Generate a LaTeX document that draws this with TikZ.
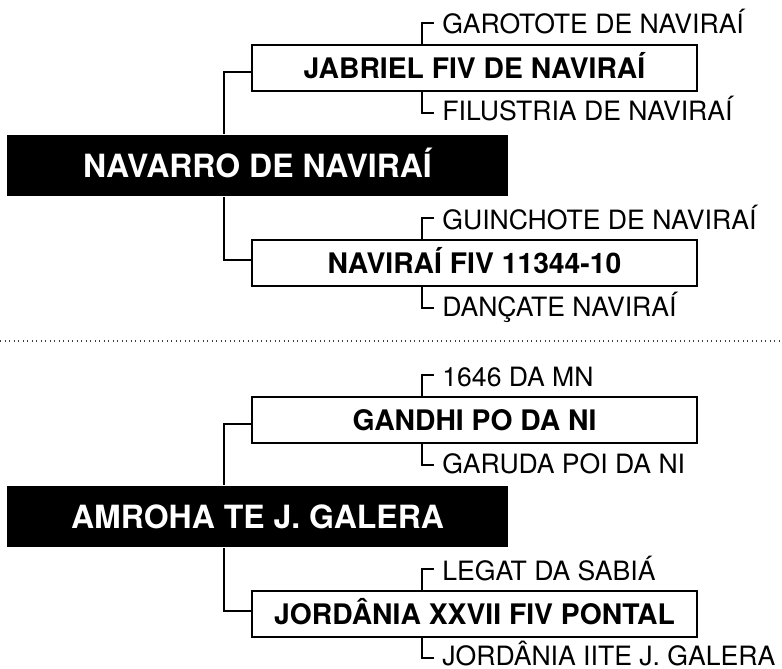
\documentclass[tikz,border=0pt]{standalone}
\usepackage{fontspec}
\setmainfont{TeX Gyre Heros}

\tikzset{every picture/.style={line width=1.8pt}}
\tikzset{
  rootbox/.style={fill=black, draw=none, text=white, inner sep=0pt,
    minimum width=501pt, minimum height=61pt, text height=23pt, text depth=0pt,
    font=\fontsize{32}{38}\selectfont\bfseries},
  kidbox/.style={fill=white, draw=black, line width=2pt, inner sep=0pt,
    minimum width=445pt, minimum height=46pt, text height=20pt, text depth=0pt,
    font=\fontsize{28.3}{34}\selectfont\bfseries},
  leaf/.style={anchor=west, inner sep=0pt,
    text height=19pt, text depth=0pt, font=\fontsize{26.6}{32}\selectfont},
  trunk/.style={line width=2pt},
  bracket/.style={line width=1.6pt},
  splitline/.style={line width=1.3pt, dash pattern=on 1.3pt off 3.2pt, black!75}
}

\begin{document}
\begin{tikzpicture}[x=1pt,y=1pt,yscale=-1,xscale=1]
	\useasboundingbox (0,0) rectangle (782,669);

	%Upper tree
	\node [rootbox] (navarro) at (257.5,165.5) {NAVARRO DE NAVIRAÍ};
	\node [kidbox] (jabriel) at (474.5,68) {JABRIEL FIV DE NAVIRAÍ};
	\node [kidbox] (navfiv) at (474.5,263) {NAVIRAÍ FIV 11344-10};
	\node [leaf] (garotote) at (441.5,24.5) {GAROTOTE DE NAVIRAÍ};
	\node [leaf] (filustria) at (441.5,111.5) {FILUSTRIA DE NAVIRAÍ};
	\node [leaf] (guinchote) at (441.5,219.5) {GUINCHOTE DE NAVIRAÍ};
	\node [leaf] (dancate) at (441.5,306.5) {DANÇATE NAVIRAÍ};

	\draw [trunk] ([xshift=-33.5pt]navarro.north) |- ([yshift=4pt]jabriel.west);
	\draw [trunk] ([xshift=-33.5pt]navarro.south) |- ([yshift=-3pt]navfiv.west);
	\draw [bracket] ([xshift=-52.5pt]jabriel.north) |- ([xshift=-7.5pt,yshift=-1.5pt]garotote.west);
	\draw [bracket] ([xshift=-52.5pt]jabriel.south) |- ([xshift=-7.5pt,yshift=1.5pt]filustria.west);
	\draw [bracket] ([xshift=-52.5pt]navfiv.north) |- ([xshift=-7.5pt,yshift=-1.5pt]guinchote.west);
	\draw [bracket] ([xshift=-52.5pt]navfiv.south) |- ([xshift=-7.5pt,yshift=1.5pt]dancate.west);

	%Dotted separator
	\coordinate (sepL) at (0,341);
	\coordinate (sepR) at (782,341);
	\draw [splitline] (sepL) -- (sepR);

	%Lower tree
	\node [rootbox] (amroha) at (257.5,516.5) {AMROHA TE J. GALERA};
	\node [kidbox] (gandhi) at (474.5,420) {GANDHI PO DA NI};
	\node [kidbox] (jordania) at (474.5,614) {JORDÂNIA XXVII FIV PONTAL};
	\node [leaf] (mn) at (441.5,376.5) {1646 DA MN};
	\node [leaf] (garuda) at (441.5,463.5) {GARUDA POI DA NI};
	\node [leaf] (legat) at (441.5,570.5) {LEGAT DA SABIÁ};
	\node [leaf] (jordaniaii) at (441.5,655.5) {JORDÂNIA IITE J. GALERA};

	\draw [trunk] ([xshift=-33.5pt]amroha.north) |- ([yshift=4pt]gandhi.west);
	\draw [trunk] ([xshift=-33.5pt]amroha.south) |- ([yshift=-3pt]jordania.west);
	\draw [bracket] ([xshift=-52.5pt]gandhi.north) |- ([xshift=-7.5pt,yshift=-1.5pt]mn.west);
	\draw [bracket] ([xshift=-52.5pt]gandhi.south) |- ([xshift=-7.5pt,yshift=1.5pt]garuda.west);
	\draw [bracket] ([xshift=-52.5pt]jordania.north) |- ([xshift=-7.5pt,yshift=-1.5pt]legat.west);
	\draw [bracket] ([xshift=-52.5pt]jordania.south) |- ([xshift=-7.5pt,yshift=2.5pt]jordaniaii.west);

\end{tikzpicture}
\end{document}
